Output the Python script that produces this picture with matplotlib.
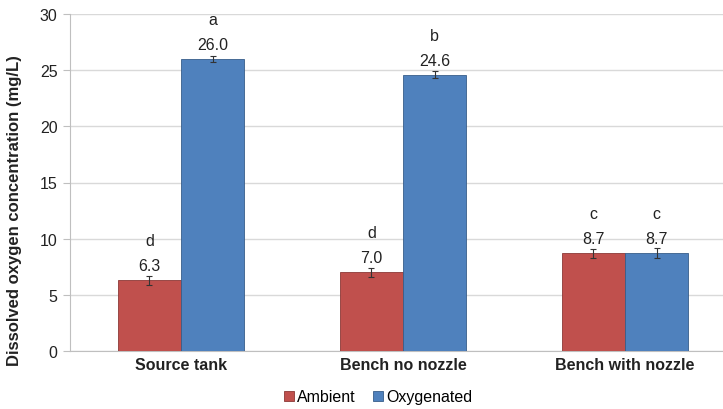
import matplotlib
matplotlib.use("Agg")
import matplotlib.pyplot as plt
import numpy as np

plt.rcParams['font.family'] = ['Liberation Sans', 'DejaVu Sans']

categories = ["Source tank", "Bench no nozzle", "Bench with nozzle"]
ambient = [6.3, 7.0, 8.7]
oxygenated = [26.0, 24.6, 8.7]
ambient_err = [0.4, 0.4, 0.4]
oxygenated_err = [0.3, 0.3, 0.45]
ambient_letters = ["d", "d", "c"]
oxygenated_letters = ["a", "b", "c"]
yticks = [0, 5, 10, 15, 20, 25, 30]

W, H = 723, 410
fig = plt.figure(figsize=(W/100, H/100), dpi=100)
ax = fig.add_axes([70/W, 1-352/H, (W-70)/W, (352-15)/H])

x = np.arange(len(categories))
bw = 0.285
red = "#C0504D"
blue = "#4F81BD"
ekw = dict(ecolor="#333333", elinewidth=0.8, capsize=2, capthick=0.8)
b1 = ax.bar(x - bw/2, ambient, bw, color=red, edgecolor="#8C3836", linewidth=0.6,
            yerr=ambient_err, error_kw=ekw, label="Ambient", zorder=3)
b2 = ax.bar(x + bw/2, oxygenated, bw, color=blue, edgecolor="#385D8A", linewidth=0.6,
            yerr=oxygenated_err, error_kw=ekw, label="Oxygenated", zorder=3)

fs = 11.5
for xs, vals, letters in [(x - bw/2, ambient, ambient_letters), (x + bw/2, oxygenated, oxygenated_letters)]:
    for xi, v, l in zip(xs, vals, letters):
        ax.annotate(f"{v:.1f}", (xi, v), xytext=(0, 10.5), textcoords="offset points",
                    ha="center", va="center", fontsize=fs, color="#222222")
        ax.annotate(l, (xi, v), xytext=(0, 28.5), textcoords="offset points",
                    ha="center", va="center", fontsize=fs, color="#222222")

ax.set_ylim(0, 30)
ax.set_xlim(-0.5, -0.5 + (W - 70) / 222)
ax.set_yticks(yticks)
ax.set_yticklabels([str(t) for t in yticks], fontsize=fs, color="#222222")
ax.set_xticks(x)
ax.set_xticklabels(categories, fontsize=fs, fontweight="bold", color="#222222")
ax.tick_params(axis="x", length=0, pad=4)
ax.tick_params(axis="y", length=5, color="#BFBFBF", pad=4)
ax.yaxis.grid(True, color="#D9D9D9", linewidth=1.0, zorder=0)
ax.set_axisbelow(True)
for s in ["top", "right"]:
    ax.spines[s].set_visible(False)
ax.spines["left"].set_color("#BFBFBF")
ax.spines["bottom"].set_color("#BFBFBF")
ax.set_ylabel("Dissolved oxygen concentration (mg/L)", fontsize=12, fontweight="bold",
              color="#222222")
ax.yaxis.set_label_coords(-(70 - 15) / (W - 70), (352 - 210.5) / 337)
ax.yaxis.label.set_va("center")

fig.legend(handles=[b1, b2], labels=["Ambient", "Oxygenated"], loc="center",
           bbox_to_anchor=(378/W, 1-398/H), ncol=2, frameon=False, fontsize=fs,
           handlelength=0.65, handleheight=0.65, handletextpad=0.15, columnspacing=1.1)

fig.savefig("out.png", dpi=100)
